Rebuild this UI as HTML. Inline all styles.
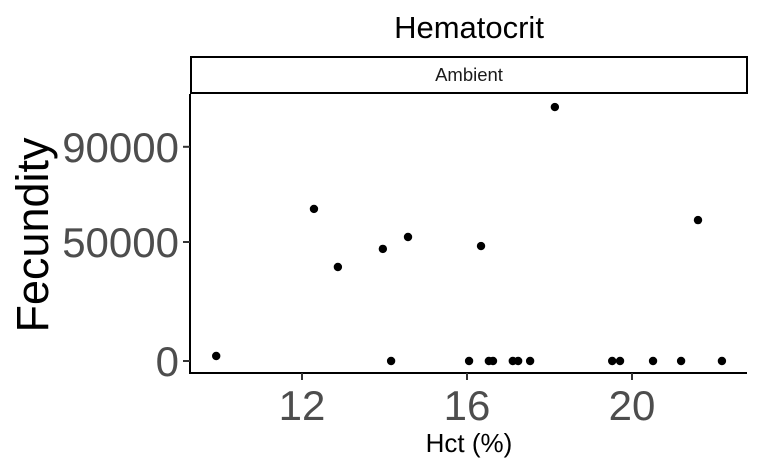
<!DOCTYPE html>
<html><head><meta charset="utf-8"><style>
body{margin:0;background:#fff;}
svg{display:block;font-family:"Liberation Sans",Arial,sans-serif;}
</style></head><body>
<svg id="chart" width="760" height="470">
<text x="469" y="38" text-anchor="middle" font-size="31" fill="#000">Hematocrit</text>
<rect x="191" y="57" width="556" height="36" fill="#fff" stroke="#000" stroke-width="2"/>
<text x="469" y="81" text-anchor="middle" font-size="18.5" fill="#1a1a1a">Ambient</text>
<line x1="190" y1="94" x2="190" y2="374" stroke="#000" stroke-width="2"/>
<line x1="189" y1="373" x2="747" y2="373" stroke="#000" stroke-width="2"/>
<g id="ticks"></g>
<g id="points"></g>
<text x="469" y="452" text-anchor="middle" font-size="26" fill="#000">Hct (%)</text>
<text transform="translate(48,235) rotate(-90)" text-anchor="middle" font-size="45" fill="#000">Fecundity</text>
</svg>
<script>
const hct=[9.92,12.29,12.87,13.96,14.16,14.57,16.05,16.34,16.53,16.63,17.11,17.24,17.53,18.13,19.52,19.71,20.51,21.19,21.60,22.18];
const fecundity=[2100,63900,39500,47100,0,52100,0,48300,0,0,0,0,0,106700,0,0,0,0,59200,0];
const xTicks=[12,16,20];
const yTicks=[0,50000,90000];
const xs=v=>302+(v-12)*41.25;
const ys=v=>361-v*0.00238;
const NS="http://www.w3.org/2000/svg";
const tg=document.getElementById('ticks');
xTicks.forEach(t=>{
  const l=document.createElementNS(NS,'line');
  l.setAttribute('x1',xs(t));l.setAttribute('x2',xs(t));l.setAttribute('y1',373);l.setAttribute('y2',380);
  l.setAttribute('stroke','#333');l.setAttribute('stroke-width','2');
  
  
  tg.appendChild(l);
  const tx=document.createElementNS(NS,'text');
  tx.setAttribute('x',xs(t));tx.setAttribute('y',420);tx.setAttribute('text-anchor','middle');
  tx.setAttribute('font-size','42');tx.setAttribute('fill','#4d4d4d');tx.textContent=t;
  
  
  tg.appendChild(tx);
});
yTicks.forEach(t=>{
  const l=document.createElementNS(NS,'line');
  l.setAttribute('x1',183);l.setAttribute('x2',190);l.setAttribute('y1',ys(t));l.setAttribute('y2',ys(t));
  l.setAttribute('stroke','#333');l.setAttribute('stroke-width','2');
  
  
  tg.appendChild(l);
  const tx=document.createElementNS(NS,'text');
  tx.setAttribute('x',179);tx.setAttribute('y',ys(t)+15);tx.setAttribute('text-anchor','end');
  tx.setAttribute('font-size','42');tx.setAttribute('fill','#4d4d4d');tx.textContent=t;
  
  
  tg.appendChild(tx);
});
const pg=document.getElementById('points');
hct.forEach((h,i)=>{
  const c=document.createElementNS(NS,'circle');
  c.setAttribute('cx',xs(h));c.setAttribute('cy',ys(fecundity[i]));c.setAttribute('r',4.2);c.setAttribute('fill','#000');
  
  
  pg.appendChild(c);
});
</script>
</body></html>
